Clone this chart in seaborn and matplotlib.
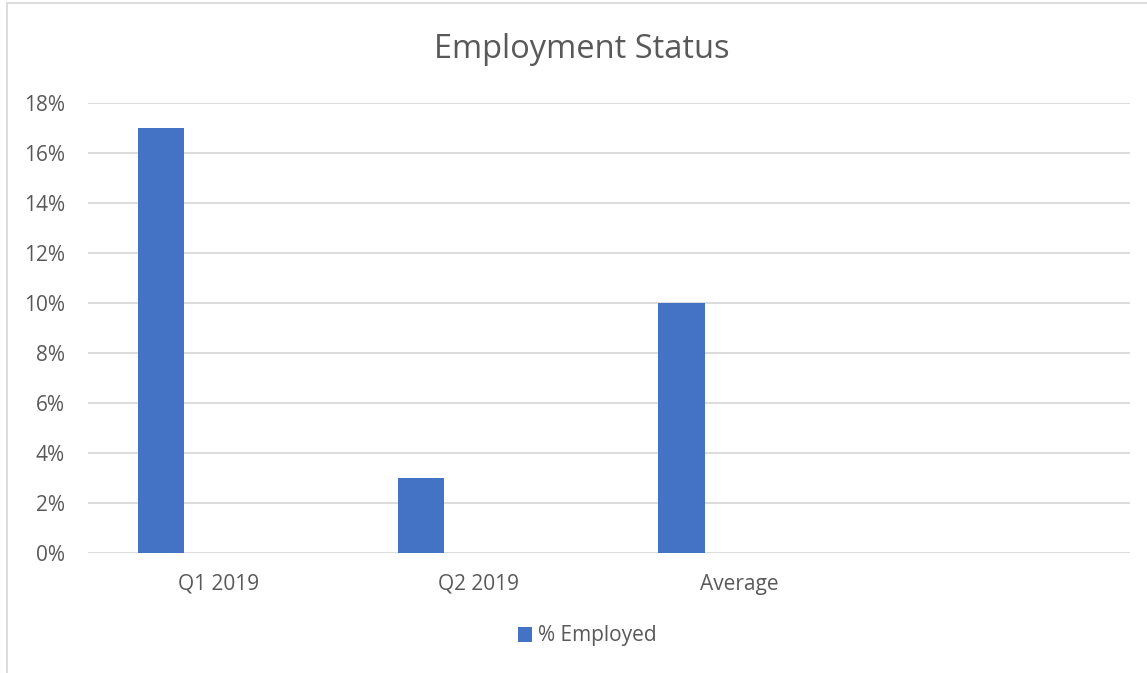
import numpy as np
import pandas as pd
import seaborn as sns
import matplotlib
matplotlib.use("Agg")
import matplotlib.pyplot as plt
from matplotlib.patches import Patch
from matplotlib.lines import Line2D
from matplotlib.ticker import FuncFormatter

categories = ["Q1 2019", "Q2 2019", "Average", " "]
employed = [17, 3, 10, np.nan]
series_names = ["% Employed", "(blank)"]
blank_series = [np.nan, np.nan, np.nan, np.nan]
y_ticks = [0, 2, 4, 6, 8, 10, 12, 14, 16, 18]
title = "Employment Status"

sns.set_theme(style="white")
plt.rcParams['font.family'] = ['Open Sans', 'DejaVu Sans']

df = pd.DataFrame({
    "category": categories * 2,
    "value": employed + blank_series,
    "series": [series_names[0]] * 4 + [series_names[1]] * 4,
})

fig = plt.figure(figsize=(11.47, 6.73), dpi=100)
ax = fig.add_axes([88 / 1147, 1 - 552.7 / 673, (1129.7 - 88) / 1147, (552.7 - 103) / 673])

bar_color = "#4472C4"
sns.barplot(data=df, x="category", y="value", hue="series",
            order=categories, hue_order=series_names,
            palette=[bar_color, bar_color], width=0.884, gap=0.6,
            dodge=True, legend=False, ax=ax, saturation=1,
            edgecolor="none", linewidth=0, zorder=3)

ax.set_xlim(-0.5, len(categories) - 0.5)
ax.set_ylim(0, 18)
ax.set_yticks(y_ticks)
ax.yaxis.set_major_formatter(FuncFormatter(lambda v, p: f"{v:.0f}%"))
ax.grid(axis="y", color="#D9D9D9", linewidth=1.3, zorder=0)
ax.set_axisbelow(True)
for s in ax.spines.values():
    s.set_visible(False)
ax.set_xlabel("")
ax.set_ylabel("")
ax.tick_params(axis="both", length=0, labelsize=15, colors="#595959")
ax.tick_params(axis="y", pad=16.5)
ax.tick_params(axis="x", pad=15)

fig.text(582 / 1147, 1 - 49 / 673, title, ha="center", va="center",
         fontsize=23.5, color="#595959")

handles = [Patch(facecolor=bar_color, edgecolor="none", label=series_names[0])]
fig.legend(handles=handles, loc="center", bbox_to_anchor=(0.512, 1 - 636 / 673),
           frameon=False, fontsize=15, labelcolor="#595959",
           handlelength=0.7, handleheight=0.7, handletextpad=0.3)

# chart area border (left and top visible)
fig.add_artist(Line2D([7 / 1147, 7 / 1147], [0, 1 - 3 / 673], color="#D9D9D9", lw=1.3,
                      transform=fig.transFigure))
fig.add_artist(Line2D([7 / 1147, 1], [1 - 3 / 673, 1 - 3 / 673], color="#D9D9D9", lw=1.3,
                      transform=fig.transFigure))

fig.savefig("out.png", dpi=100, facecolor="white")
